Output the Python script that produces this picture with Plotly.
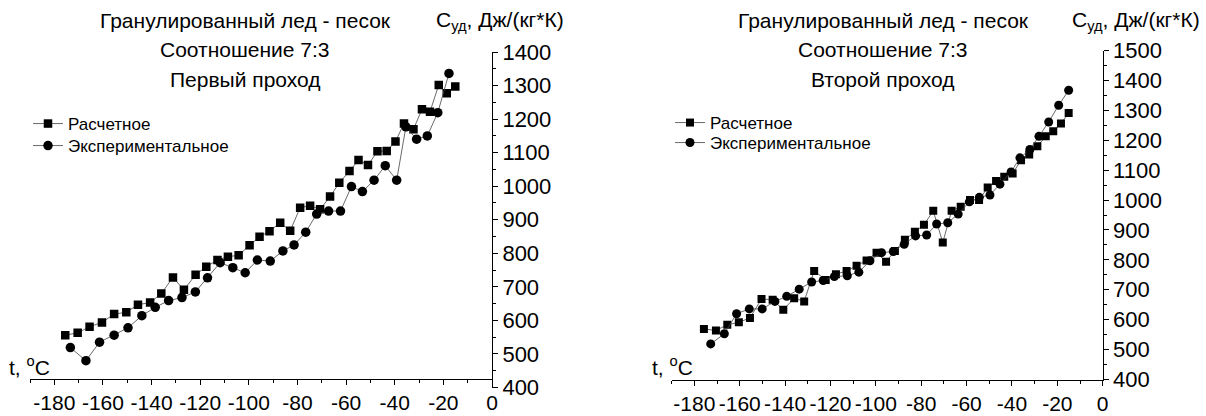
import plotly.graph_objects as go

# ---------------- data ----------------
# Panel 1: first pass
t_calc1 = [-175.5, -170.4, -165.5, -160.4, -155.4, -150.4, -145.6, -140.6, -136.0, -131.2,
           -126.7, -121.9, -117.5, -112.9, -108.6, -104.2, -99.7, -95.6, -91.5, -87.1,
           -83.0, -78.9, -74.8, -70.7, -66.6, -62.8, -58.6, -54.9, -51.0, -47.1,
           -43.3, -39.7, -36.2, -32.3, -28.8, -25.5, -21.9, -18.6, -15.1]
c_calc1 = [556, 563, 581, 594, 619, 624, 647, 653, 680, 728,
           691, 736, 760, 780, 790, 794, 824, 849, 866, 891,
           867, 936, 942, 931, 969, 1010, 1045, 1078, 1063, 1104,
           1105, 1133, 1187, 1170, 1229, 1222, 1302, 1277, 1297]
t_exp1 = [-173.4, -167.0, -161.4, -155.4, -149.7, -144.0, -138.5, -133.0, -127.5, -122.0,
          -117.0, -111.8, -106.6, -101.5, -96.5, -91.2, -86.0, -81.4, -76.6, -72.1,
          -67.2, -62.3, -57.8, -53.3, -48.5, -43.9, -39.2, -35.4, -31.0, -26.6,
          -22.3, -17.7]
c_exp1 = [519, 480, 535, 556, 578, 614, 639, 659, 668, 685,
          727, 772, 757, 742, 780, 777, 807, 825, 863, 917,
          926, 926, 999, 984, 1018, 1061, 1018, 1177, 1140, 1150,
          1219, 1336]

# Panel 2: second pass
t_calc2 = [-175.8, -170.5, -165.5, -160.4, -155.5, -150.4, -145.5, -140.8, -136.0, -131.6,
           -127.2, -122.1, -117.6, -112.9, -108.5, -104.1, -99.7, -95.5, -91.6, -87.2,
           -82.8, -78.8, -74.7, -70.5, -66.6, -62.6, -58.5, -54.5, -50.7, -47.0,
           -43.4, -39.7, -36.0, -32.4, -28.8, -25.1, -21.8, -18.4, -15.0]
c_calc2 = [569, 564, 583, 591, 606, 669, 667, 633, 672, 661,
           763, 733, 752, 763, 780, 798, 824, 794, 830, 867,
           894, 917, 964, 858, 964, 978, 1000, 1000, 1042, 1064,
           1078, 1089, 1133, 1152, 1180, 1213, 1230, 1256, 1291]
t_exp2 = [-172.8, -166.8, -161.4, -155.8, -150.1, -144.5, -139.3, -133.8, -128.3, -123.2,
          -118.3, -112.6, -107.5, -102.6, -97.5, -92.3, -87.5, -82.5, -77.6, -73.2,
          -68.3, -63.7, -58.8, -54.4, -49.7, -45.3, -40.4, -36.5, -32.1, -28.1,
          -23.8, -19.4, -15.0]
c_exp2 = [519, 553, 620, 636, 636, 661, 678, 702, 726, 731,
          744, 747, 759, 797, 824, 828, 852, 880, 883, 920,
          924, 953, 994, 1009, 1017, 1053, 1094, 1141, 1169, 1213,
          1261, 1317, 1367]

x_tick_vals = [-180, -160, -140, -120, -100, -80, -60, -40, -20, 0]
x_tick_text = ["-180", "-160", "-140", "-120", "-100", "-80", "-60", "-40", "-20", "0"]

series_names = ["Расчетное", "Экспериментальное"]
title_lines1 = ["Гранулированный лед - песок", "Соотношение 7:3", "Первый проход"]
title_lines2 = ["Гранулированный лед - песок", "Соотношение 7:3", "Второй проход"]
y_title = "C<sub>уд</sub>, Дж/(кг*К)"
x_title = "t, <sup>o</sup>C"

# ---------------- figure ----------------
W, H = 1206, 416
FONT = "Arial, Liberation Sans, sans-serif"
LINE = dict(color="#444444", width=0.8)


def px(x):
    return x / W


def py(y):
    return 1 - y / H


fig = go.Figure()

fig.add_trace(go.Scatter(x=t_calc1, y=c_calc1, mode="lines+markers", name=series_names[0],
                         line=LINE, marker=dict(symbol="square", size=8.5, color="black"),
                         xaxis="x", yaxis="y", legend="legend"))
fig.add_trace(go.Scatter(x=t_exp1, y=c_exp1, mode="lines+markers", name=series_names[1],
                         line=LINE, marker=dict(symbol="circle", size=9.5, color="black"),
                         xaxis="x", yaxis="y", legend="legend2"))
fig.add_trace(go.Scatter(x=t_calc2, y=c_calc2, mode="lines+markers", name=series_names[0],
                         line=LINE, marker=dict(symbol="square", size=8, color="black"),
                         xaxis="x2", yaxis="y2", legend="legend3"))
fig.add_trace(go.Scatter(x=t_exp2, y=c_exp2, mode="lines+markers", name=series_names[1],
                         line=LINE, marker=dict(symbol="circle", size=9, color="black"),
                         xaxis="x2", yaxis="y2", legend="legend4"))

common_x = dict(range=[-190, 0], tickmode="array", tickvals=x_tick_vals, ticktext=x_tick_text,
                tickangle=0, automargin=False,
                ticks="outside", ticklen=5, tickwidth=1,
                tickcolor="black", showline=True, linecolor="black", linewidth=1,
                showgrid=False, zeroline=False, tickfont=dict(size=21, color="black", family=FONT),
                minor=dict(tickmode="linear", tick0=0, dtick=10, ticks="outside", ticklen=3,
                           tickcolor="black", showgrid=False))
common_y = dict(dtick=100, tick0=0, ticks="outside", ticklen=5, tickwidth=1, tickcolor="black",
                automargin=False,
                showline=True, linecolor="black", linewidth=1, showgrid=False, zeroline=False,
                side="right", tickfont=dict(size=22, color="black", family=FONT),
                minor=dict(dtick=50, ticks="outside", ticklen=3, tickcolor="black", showgrid=False))


def leg(x, ytop):
    return dict(x=px(x), y=py(ytop), xanchor="left", yanchor="top", bgcolor="rgba(0,0,0,0)",
                font=dict(size=17, family=FONT, color="black"), itemwidth=30, borderwidth=0)


fig.update_layout(
    template="none",
    width=W, height=H, margin=dict(l=0, r=0, t=0, b=0, autoexpand=False),
    paper_bgcolor="white", plot_bgcolor="white",
    font=dict(family=FONT, color="black"),
    showlegend=True,
    xaxis=dict(domain=[px(30), px(492)], anchor="free", position=py(379), **common_x),
    yaxis=dict(domain=[py(387.5), py(52)], range=[400, 1400], anchor="x", **common_y),
    xaxis2=dict(domain=[px(671.7), px(1102.7)], anchor="y2", **common_x),
    yaxis2=dict(domain=[py(379.5), py(50.5)], range=[400, 1500], anchor="x2", **common_y),
    legend=leg(28, 106),
    legend2=leg(28, 128),
    legend3=leg(670, 105),
    legend4=leg(670, 125),
)

annotations = []
for i, txt in enumerate(title_lines1):
    annotations.append(dict(text=txt, x=px(245), y=py(20 + i * 29.5), xref="paper", yref="paper",
                            showarrow=False, xanchor="center", yanchor="middle",
                            font=dict(size=21, family=FONT, color="black")))
for i, txt in enumerate(title_lines2):
    annotations.append(dict(text=txt, x=px(883), y=py(20 + i * 29.5), xref="paper", yref="paper",
                            showarrow=False, xanchor="center", yanchor="middle",
                            font=dict(size=21, family=FONT, color="black")))
for xl in (434, 1070):
    annotations.append(dict(text=y_title, x=px(xl), y=py(21), xref="paper", yref="paper",
                            showarrow=False, xanchor="left", yanchor="middle",
                            font=dict(size=21, family=FONT, color="black")))
for xc in (29, 672):
    annotations.append(dict(text=x_title, x=px(xc), y=py(366), xref="paper", yref="paper",
                            showarrow=False, xanchor="center", yanchor="middle",
                            font=dict(size=21, family=FONT, color="black")))
fig.update_layout(annotations=annotations)

fig.write_html("out.html")
